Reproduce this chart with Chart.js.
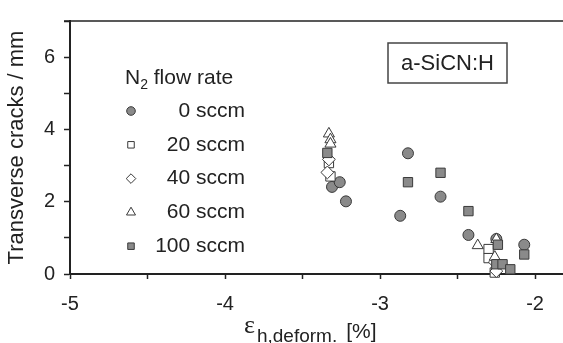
<!DOCTYPE html>
<html>
<head>
<meta charset="utf-8">
<script src="https://cdn.jsdelivr.net/npm/chart.js@4/dist/chart.umd.min.js"></script>
<style>
  html, body { margin: 0; padding: 0; background: #ffffff; }
  #wrap { width: 563px; height: 343px; position: relative; }
</style>
</head>
<body>
<div id="wrap"><canvas id="c" width="563" height="343"></canvas></div>
<script>
// Transverse crack density vs. deformation strain, a-SiCN:H films, by N2 flow rate
const seriesLabels = ['0 sccm', '20 sccm', '40 sccm', '60 sccm', '100 sccm'];

const strain0   = [-3.31, -3.26, -3.22, -2.87, -2.82, -2.61, -2.43, -2.25, -2.07];
const cracks0   = [ 2.41,  2.54,  2.01,  1.61,  3.34,  2.14,  1.08,  0.97,  0.81];

const strain20  = [-3.33, -3.32, -2.30, -2.30, -2.26];
const cracks20  = [ 3.07,  2.70,  0.69,  0.44,  0.04];

const strain40  = [-3.34, -3.33, -2.26, -2.25];
const cracks40  = [ 2.81,  3.17,  0.33,  0.08];

const strain60  = [-3.33, -3.32, -3.32, -2.37, -2.25, -2.26];
const cracks60  = [ 3.88,  3.72,  3.60,  0.79,  0.96,  0.47];

const strain100 = [-3.34, -2.82, -2.61, -2.43, -2.24, -2.07, -2.25, -2.21, -2.16];
const cracks100 = [ 3.35,  2.54,  2.80,  1.74,  0.81,  0.54,  0.27,  0.27,  0.13];

const xTickValues = [-5, -4, -3, -2];
const yTickValues = [0, 2, 4, 6];

const INK = '#222222';
const GREY = '#8a8a8a';
const EDGE = '#3a3a3a';
const FONT = '"Liberation Sans", Arial, Helvetica, sans-serif';

function pts(xs, ys) { return xs.map((x, i) => ({ x: x, y: ys[i] })); }

const markerStyles = [
  { pointStyle: 'circle',   radius: 5.5, fill: GREY,      legendRadius: 4.3 },
  { pointStyle: 'rect',     radius: 6.6, fill: '#ffffff', legendRadius: 4.6 },
  { pointStyle: 'rectRot',  radius: 6.4, fill: '#ffffff', legendRadius: 4.8 },
  { pointStyle: 'triangle', radius: 6.4, fill: '#ffffff', legendRadius: 5.2 },
  { pointStyle: 'rect',     radius: 6.6, fill: GREY,      legendRadius: 4.6 }
];
const seriesData = [
  pts(strain0, cracks0), pts(strain20, cracks20), pts(strain40, cracks40),
  pts(strain60, cracks60), pts(strain100, cracks100)
];

const datasets = seriesData.map((d, i) => ({
  label: seriesLabels[i],
  data: d,
  pointStyle: markerStyles[i].pointStyle,
  pointRadius: markerStyles[i].radius,
  pointHoverRadius: markerStyles[i].radius,
  pointBackgroundColor: markerStyles[i].fill,
  pointBorderColor: EDGE,
  pointBorderWidth: 1,
  showLine: false,
  clip: false,
  order: 5 - i
}));

// white page, top frame line, legend, label box and the x-axis title with subscript
const decorations = {
  id: 'decorations',
  beforeDraw(chart) {
    const ctx = chart.ctx;
    ctx.save();
    ctx.fillStyle = '#ffffff';
    ctx.fillRect(0, 0, chart.width, chart.height);
    ctx.restore();
  },
  afterDraw(chart) {
    const ctx = chart.ctx;
    const a = chart.chartArea;
    ctx.save();

    // top frame line
    ctx.strokeStyle = INK;
    ctx.lineWidth = 1.5;
    ctx.beginPath();
    ctx.moveTo(a.left - 6, a.top);
    ctx.lineTo(a.right, a.top);
    ctx.stroke();

    // legend
    ctx.fillStyle = INK;
    ctx.textBaseline = 'middle';
    ctx.font = '21px ' + FONT;
    ctx.textAlign = 'left';
    const lx = a.left + 55, ly = a.top + 57;
    ctx.fillText('N', lx, ly);
    const nW = ctx.measureText('N').width;
    ctx.font = '14px ' + FONT;
    ctx.fillText('2', lx + nW, ly + 7);
    const sW = ctx.measureText('2').width;
    ctx.font = '21px ' + FONT;
    ctx.fillText(' flow rate', lx + nW + sW, ly);

    const mx = a.left + 61, rx = a.left + 175;
    seriesLabels.forEach((lab, i) => {
      const y = a.top + 90 + i * 33.8;
      const m = markerStyles[i];
      ctx.fillStyle = m.fill;
      ctx.strokeStyle = EDGE;
      ctx.lineWidth = 1;
      Chart.helpers.drawPoint(ctx, { pointStyle: m.pointStyle, radius: m.legendRadius, rotation: 0, borderWidth: 1 }, mx, y);
      ctx.fillStyle = INK;
      ctx.font = '21px ' + FONT;
      ctx.textAlign = 'right';
      ctx.fillText(lab, rx, y);
    });

    // material label box
    ctx.strokeStyle = '#444444';
    ctx.lineWidth = 1.5;
    ctx.strokeRect(388, 43, 119, 40);
    ctx.fillStyle = INK;
    ctx.textAlign = 'center';
    ctx.font = '22px ' + FONT;
    ctx.fillText('a-SiCN:H', 447.5, 63.5);

    // x-axis title: epsilon with subscript, then unit
    const base = 338;
    ctx.textBaseline = 'alphabetic';
    ctx.textAlign = 'left';
    const epsFont = '26px "Liberation Serif", "Times New Roman", serif';
    const subFont = '19px ' + FONT;
    const unitFont = '21px ' + FONT;
    let x = a.left + 174;
    ctx.font = epsFont;
    ctx.fillText('\u03B5', x, base - 5);
    x += ctx.measureText('\u03B5').width + 2;
    ctx.font = subFont;
    ctx.fillText('h,deform.', x, base + 4);
    x += ctx.measureText('h,deform.').width + 9;
    ctx.font = unitFont;
    ctx.fillText('[%]', x, base);

    ctx.restore();
  }
};

new Chart(document.getElementById('c'), {
  type: 'scatter',
  data: { datasets: datasets },
  options: {
    responsive: false,
    animation: false,
    events: [],
    layout: { autoPadding: false, padding: { top: 13, right: 0, left: 0, bottom: 0 } },
    plugins: { legend: { display: false }, tooltip: { enabled: false } },
    scales: {
      x: {
        type: 'linear',
        min: -5,
        max: -1.82,
        afterBuildTicks(s) {
          const t = [];
          for (let v = s.min; v <= xTickValues[xTickValues.length - 1] + 1e-9; v += 0.5) t.push({ value: v });
          s.ticks = t;
        },
        afterFit(s) { s.height = 69; s.paddingRight = 0; s.paddingLeft = 0; },
        border: { display: true, color: INK, width: 2 },
        grid: {
          display: true,
          drawOnChartArea: false,
          drawTicks: true,
          tickLength: 5,
          tickWidth: 1.5,
          tickColor: INK
        },
        ticks: {
          autoSkip: false,
          maxRotation: 0,
          padding: 13,
          color: INK,
          font: { family: FONT, size: 20 },
          callback: v => xTickValues.includes(v) ? String(v) : ''
        }
      },
      y: {
        type: 'linear',
        min: 0,
        max: 7,
        afterFit(s) { s.width = 70; },
        border: { display: true, color: INK, width: 2 },
        grid: {
          display: true,
          drawOnChartArea: false,
          drawTicks: true,
          tickLength: 6,
          tickWidth: 1.5,
          tickColor: INK
        },
        ticks: {
          stepSize: 1,
          autoSkip: false,
          padding: 9,
          color: INK,
          font: { family: FONT, size: 20 },
          callback: v => yTickValues.includes(v) ? String(v) : ''
        },
        title: {
          display: true,
          text: 'Transverse cracks / mm',
          color: INK,
          font: { family: FONT, size: 22 },
          padding: { top: 4, bottom: 0 }
        }
      }
    }
  },
  plugins: [decorations]
});
</script>
</body>
</html>
